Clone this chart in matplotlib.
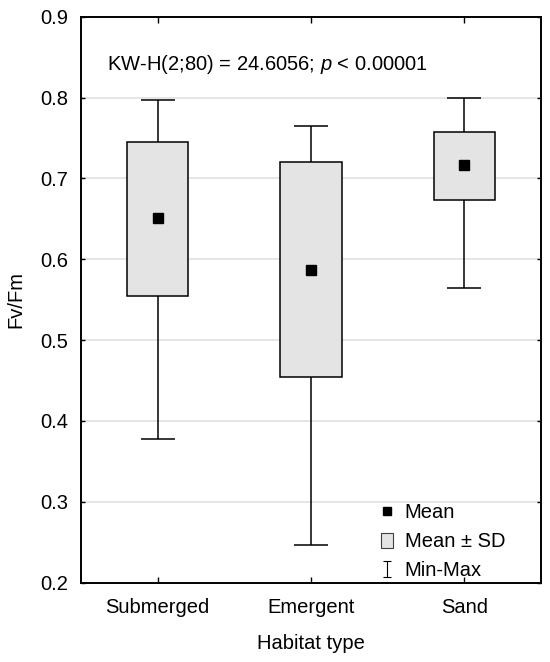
import numpy as np
import matplotlib.pyplot as plt
from matplotlib.lines import Line2D
from matplotlib.patches import Patch
from matplotlib.path import Path

plt.rcParams['font.family'] = ['Liberation Sans', 'DejaVu Sans']
plt.rcParams['mathtext.fontset'] = 'custom'
plt.rcParams['mathtext.rm'] = 'Liberation Sans'
plt.rcParams['mathtext.it'] = 'Liberation Sans:italic'

habitats = ["Submerged", "Emergent", "Sand"]
means = [0.651, 0.587, 0.716]
sd_low = [0.554, 0.455, 0.673]
sd_high = [0.745, 0.720, 0.757]
mins = [0.378, 0.247, 0.565]
maxs = [0.797, 0.765, 0.800]

x = np.arange(1, len(habitats) + 1)
box_w = 0.4
cap_w = 0.22
box_col = "#e4e4e4"
fs = 14.5

fig = plt.figure(figsize=(5.5, 6.62), dpi=100)
ax = fig.add_axes([0.1473, 0.1198, 0.8363, 0.855])

ax.set_ylim(0.2, 0.9)
ax.set_xlim(0.5, 3.5)
ax.set_yticks(np.arange(0.2, 0.91, 0.1))
ax.yaxis.grid(True, color="#e0e0e0", linewidth=1.2, zorder=0)
ax.set_axisbelow(True)

# whiskers
ax.vlines(x, mins, sd_low, color="black", linewidth=1.1, zorder=2)
ax.vlines(x, sd_high, maxs, color="black", linewidth=1.1, zorder=2)
ax.hlines(mins, x - cap_w / 2, x + cap_w / 2, color="black", linewidth=1.1, zorder=2)
ax.hlines(maxs, x - cap_w / 2, x + cap_w / 2, color="black", linewidth=1.1, zorder=2)

# boxes
ax.bar(x, np.array(sd_high) - np.array(sd_low), bottom=sd_low, width=box_w,
       color=box_col, edgecolor="black", linewidth=1.1, zorder=3)

# means
ax.plot(x, means, "s", color="black", markersize=7, zorder=4)

ax.set_xticks(x)
ax.set_xticklabels(habitats)
ax.set_yticklabels(["%.1f" % v for v in np.arange(0.2, 0.91, 0.1)])
ax.tick_params(axis="both", direction="in", labelsize=fs, top=True, right=True,
               width=1.0, length=4, pad=11)
ax.tick_params(axis="y", length=3, pad=9)
for s in ax.spines.values():
    s.set_linewidth(1.4)

ax.set_ylabel("Fv/Fm", fontsize=fs, labelpad=11)
ax.set_xlabel("Habitat type", fontsize=fs, labelpad=12)

ax.text(0.056, 0.915, "KW-H(2;80) = 24.6056; $p$ < 0.00001", transform=ax.transAxes,
        fontsize=fs, va="center", ha="left")

# legend
ipath = Path([(-0.5, -1), (0.5, -1), (0, -1), (0, 1), (-0.5, 1), (0.5, 1)],
             [Path.MOVETO, Path.LINETO, Path.MOVETO, Path.LINETO, Path.MOVETO, Path.LINETO])
handles = [
    Line2D([], [], marker="s", color="black", linestyle="none", markersize=6),
    Patch(facecolor=box_col, edgecolor="#404040", linewidth=0.8),
    Line2D([], [], marker=ipath, color="black", linestyle="none", markersize=11,
           markerfacecolor="none", markeredgewidth=0.8),
]
leg = ax.legend(handles, ["Mean", "Mean ± SD", "Min-Max"], loc="lower right",
                frameon=False, fontsize=fs, handlelength=0.6, handleheight=0.8,
                handletextpad=0.6, labelspacing=0.5, borderaxespad=0.0,
                bbox_to_anchor=(0.94, -0.01))

fig.savefig("out.png", dpi=100)
